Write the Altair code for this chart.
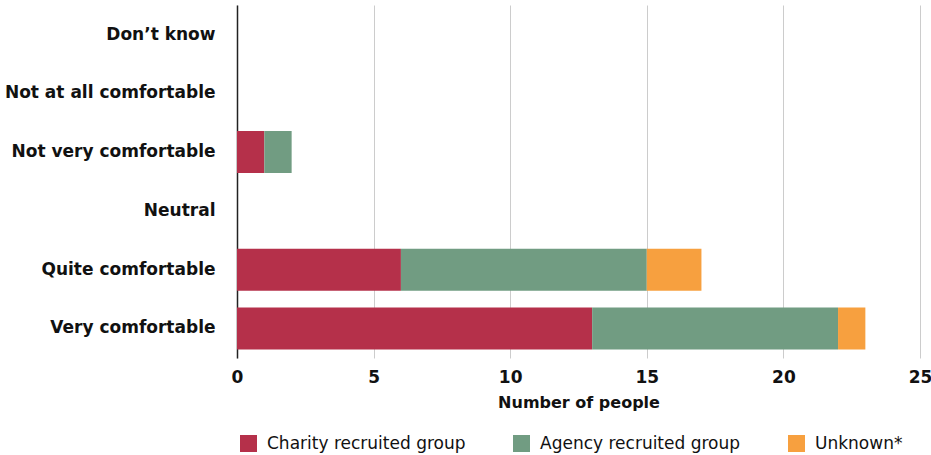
import altair as alt
import pandas as pd

# Comfort levels, top to bottom
categories = [
    "Don\u2019t know",
    "Not at all comfortable",
    "Not very comfortable",
    "Neutral",
    "Quite comfortable",
    "Very comfortable",
]
groups = ["Charity recruited group", "Agency recruited group", "Unknown*"]
colors = ["#B5304A", "#719C82", "#F7A03F"]

charity = [0, 0, 1, 0, 6, 13]
agency = [0, 0, 1, 0, 9, 9]
unknown = [0, 0, 0, 0, 2, 1]

rows = []
for i, cat in enumerate(categories):
    for g, (name, vals) in enumerate(zip(groups, [charity, agency, unknown])):
        rows.append({"response": cat, "group": name, "count": vals[i], "order": g})
df = pd.DataFrame(rows)

FONT = "DejaVu Sans"

chart = (
    alt.Chart(df)
    .mark_bar()
    .encode(
        y=alt.Y(
            "response:N",
            sort=categories,
            scale=alt.Scale(paddingInner=0.286, paddingOuter=0.145),
            axis=alt.Axis(
                title=None,
                domainColor="#222222",
                domainWidth=1.5,
                ticks=False,
                labelPadding=22,
                labelLimit=300,
                labelFont=FONT,
                labelFontSize=17,
                labelFontWeight="bold",
                labelColor="#111111",
                grid=False,
            ),
        ),
        x=alt.X(
            "count:Q",
            stack="zero",
            scale=alt.Scale(domain=[0, 25], nice=False),
            axis=alt.Axis(
                title="Number of people",
                values=[0, 5, 10, 15, 20, 25],
                domain=False,
                ticks=False,
                gridColor="#cccccc",
                labelFlush=False,
                labelFont=FONT,
                labelFontSize=17,
                labelFontWeight="bold",
                labelColor="#111111",
                labelPadding=11,
                titleFont=FONT,
                titleFontSize=16,
                titleFontWeight="bold",
                titleColor="#111111",
                titlePadding=9,
            ),
        ),
        color=alt.Color(
            "group:N",
            sort=groups,
            scale=alt.Scale(domain=groups, range=colors),
            legend=alt.Legend(
                title=None,
                orient="none",
                legendX=3,
                legendY=430,
                direction="horizontal",
                symbolType="square",
                symbolSize=289,
                symbolStrokeWidth=0,
                symbolOpacity=1,
                labelFont=FONT,
                labelFontSize=17,
                labelLimit=300,
                labelColor="#111111",
                labelOffset=10,
                columnPadding=47,
            ),
        ),
        order=alt.Order("order:Q"),
    )
    .properties(
        width=683,
        height=353,
        padding={"left": 237, "top": 5, "right": 11, "bottom": 97},
        autosize=alt.AutoSizeParams(type="none"),
    )
    .configure_view(stroke=None)
)

chart.save("out.html", embed_options={"renderer": "svg", "actions": False})
